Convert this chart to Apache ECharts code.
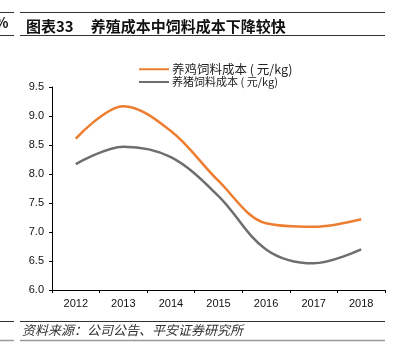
<!DOCTYPE html>
<html><head><meta charset="utf-8">
<script src="https://cdn.jsdelivr.net/npm/echarts@6/dist/echarts.min.js"></script>
<style>html,body{margin:0;padding:0;background:#fff}#c{width:395px;height:356px}</style>
</head><body><div id="c"></div>
<script>
var categories = ['2012','2013','2014','2015','2016','2017','2018'];
var chickenFeed = [8.61, 9.17, 8.74, 7.88, 7.15, 7.09, 7.22];
var pigFeed = [8.17, 8.47, 8.29, 7.62, 6.70, 6.46, 6.70];
var seriesNames = ['养鸡饲料成本 ( 元/kg)', '养猪饲料成本 ( 元/kg)'];
var yTicks = {min: 6, max: 9.5, interval: 0.5};

var chart = echarts.init(document.getElementById('c'));
var font = '"Noto Sans CJK SC", "Liberation Sans", sans-serif';
chart.setOption({
  animation: false,
  textStyle: {fontFamily: font},
  title: [{
    text: '图表33     养殖成本中饲料成本下降较快',
    left: 21, top: 14,
    textStyle: {fontSize: 15, fontWeight: 'bold', color: '#111', fontFamily: font}
  }],
  graphic: [
    {type: 'line', shape: {x1: 20, y1: 12.5, x2: 385, y2: 12.5}, style: {stroke: '#333', lineWidth: 1}},
    {type: 'line', shape: {x1: 20, y1: 35.5, x2: 385, y2: 35.5}, style: {stroke: '#333', lineWidth: 1}},
    {type: 'line', shape: {x1: 0, y1: 12.5, x2: 14, y2: 12.5}, style: {stroke: '#333', lineWidth: 1}},
    {type: 'line', shape: {x1: 0, y1: 35.5, x2: 14, y2: 35.5}, style: {stroke: '#333', lineWidth: 1}},
    {type: 'text', left: -5, top: 16, style: {text: '%', font: 'bold 14px ' + font, fill: '#111'}},
    {type: 'line', shape: {x1: 20, y1: 321.5, x2: 385, y2: 321.5}, style: {stroke: '#333', lineWidth: 1}},
    {type: 'line', shape: {x1: 20, y1: 340.5, x2: 385, y2: 340.5}, style: {stroke: '#999', lineWidth: 1.5}},
    {type: 'line', shape: {x1: 0, y1: 321.5, x2: 14, y2: 321.5}, style: {stroke: '#333', lineWidth: 1}},
    {type: 'line', shape: {x1: 0, y1: 340.5, x2: 14, y2: 340.5}, style: {stroke: '#999', lineWidth: 1.5}},
    {type: 'text', left: 22, top: 324, style: {text: '资料来源：公司公告、平安证券研究所', font: 'italic 13px ' + font, fill: '#333'}}
  ],
  legend: {
    orient: 'vertical', left: 134, top: 58, itemGap: 1,
    itemWidth: 30, itemHeight: 10,
    icon: 'path://M0,4 L30,4 L30,6 L0,6 Z',
    data: [
      {name: seriesNames[0], textStyle: {fontSize: 12.5, color: '#222'}},
      {name: seriesNames[1], textStyle: {fontSize: 11, color: '#222'}}
    ],
    textStyle: {fontFamily: font, padding: [0,0,0,-2]}
  },
  grid: {left: 52, right: 10, top: 87, bottom: 66, containLabel: false},
  xAxis: {
    type: 'category', data: categories, boundaryGap: true,
    axisLine: {lineStyle: {color: '#000', width: 1}},
    axisTick: {show: true, length: 3, lineStyle: {color: '#000'}},
    axisLabel: {fontSize: 11, color: '#111', margin: 8, fontFamily: 'Liberation Sans'}
  },
  yAxis: {
    type: 'value', min: yTicks.min, max: yTicks.max, interval: yTicks.interval,
    axisLine: {show: true, lineStyle: {color: '#000', width: 1}},
    axisTick: {show: true, length: 3, lineStyle: {color: '#000'}},
    splitLine: {show: false},
    axisLabel: {fontSize: 11, color: '#111', margin: 8, fontFamily: 'Liberation Sans',
      formatter: function (v) { return v.toFixed(1); }}
  },
  series: [
    {name: seriesNames[0], type: 'line', data: chickenFeed, smooth: 0.35, showSymbol: false,
      itemStyle: {color: '#ED7D31'}, lineStyle: {color: '#ED7D31', width: 2.5}},
    {name: seriesNames[1], type: 'line', data: pigFeed, smooth: 0.35, showSymbol: false,
      itemStyle: {color: '#6E6E6E'}, lineStyle: {color: '#6E6E6E', width: 2.5}}
  ]
});
</script></body></html>
